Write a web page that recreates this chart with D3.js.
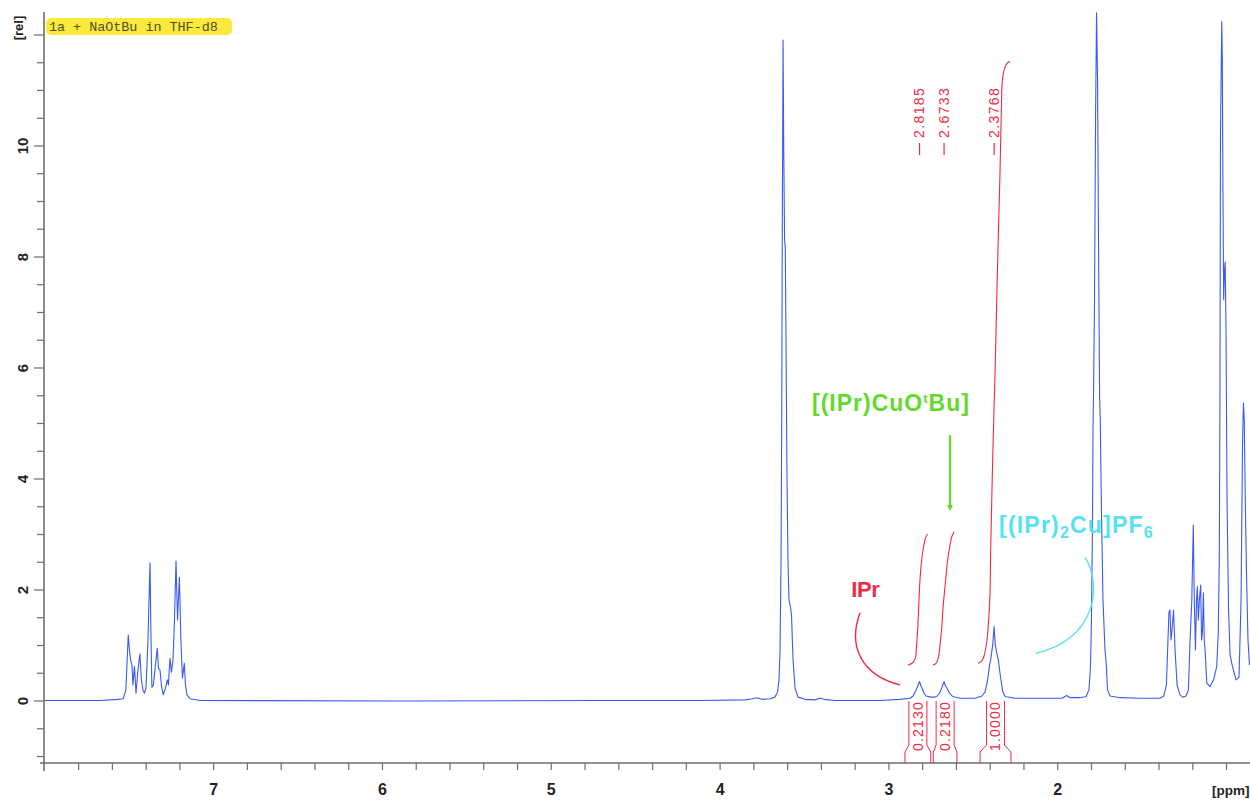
<!DOCTYPE html>
<html>
<head>
<meta charset="utf-8">
<script src="https://cdn.jsdelivr.net/npm/d3@7"></script>
<style>
  html, body { margin: 0; padding: 0; background: #fff; }
  svg { display: block; }
</style>
</head>
<body>
<svg id="chart" width="1250" height="801"></svg>
<script>
// 1H NMR spectrum, [ppm] vs [rel] intensity
const aromatic = [
  [8.005,0.01],[7.674,0.01],[7.567,0.03],[7.536,0.04],[7.520,0.20],[7.506,1.19],[7.499,0.92],
  [7.492,0.74],[7.484,0.65],[7.478,0.29],[7.469,0.62],[7.460,0.14],[7.450,0.50],[7.437,0.85],
  [7.428,0.38],[7.419,0.20],[7.410,0.14],[7.401,0.23],[7.389,1.10],[7.377,2.49],[7.371,1.10],
  [7.366,0.25],[7.357,0.29],[7.348,0.56],[7.334,0.95],[7.327,0.59],[7.318,0.56],[7.309,0.27],
  [7.299,0.11],[7.286,0.23],[7.274,0.38],[7.268,0.29],[7.259,0.77],[7.250,0.52],[7.241,0.74],
  [7.232,1.46],[7.223,2.52],[7.214,1.46],[7.209,1.82],[7.203,2.23],[7.194,1.10],[7.185,0.41],
  [7.174,0.68],[7.167,0.29],[7.158,0.11],[7.140,0.04],[7.081,0.01],[5.896,0.00],[4.711,0.01],
  [4.119,0.01]
];
const solventOCH2 = [
  [3.852,0.02],[3.811,0.04],[3.781,0.06],[3.752,0.03],[3.704,0.04],[3.675,0.07],[3.660,0.16],
  [3.651,0.38],[3.645,0.92],[3.639,2.54],[3.635,5.06],[3.632,8.13],[3.627,11.91],[3.623,9.93],
  [3.618,8.31],[3.614,8.16],[3.610,6.68],[3.604,4.16],[3.598,2.54],[3.592,1.82],[3.583,1.69],
  [3.577,1.55],[3.568,0.74],[3.556,0.23],[3.538,0.07],[3.497,0.03],[3.438,0.02],[3.408,0.05],
  [3.384,0.03],[3.319,0.01],[3.053,0.01]
];
const septets = [
  [2.934,0.03],[2.875,0.05],[2.857,0.09],[2.839,0.20],[2.829,0.27],[2.823,0.32],[2.8185,0.35],
  [2.810,0.27],[2.804,0.23],[2.792,0.14],[2.780,0.09],[2.752,0.07],[2.727,0.07],[2.713,0.09],
  [2.697,0.16],[2.683,0.27],[2.677,0.32],[2.6733,0.35],[2.665,0.27],[2.656,0.23],[2.641,0.14],
  [2.622,0.08],[2.579,0.05],[2.490,0.05],[2.449,0.09],[2.431,0.16],[2.419,0.32],[2.411,0.47],
  [2.404,0.65],[2.397,0.74],[2.391,0.88],[2.385,1.01],[2.3768,1.34],[2.370,1.01],[2.361,0.86],
  [2.352,0.74],[2.342,0.50],[2.333,0.32],[2.326,0.17],[2.312,0.08],[2.253,0.05],[2.105,0.05],
  [1.975,0.05],[1.947,0.10],[1.927,0.06],[1.868,0.06]
];
const aliphatic = [
  [1.832,0.08],[1.815,0.20],[1.807,0.56],[1.805,0.74],[1.800,1.46],[1.794,3.26],[1.791,4.88],
  [1.788,5.51],[1.782,7.23],[1.776,10.47],[1.770,12.40],[1.764,11.19],[1.758,8.13],[1.752,5.51],
  [1.748,5.06],[1.741,3.44],[1.732,1.82],[1.720,0.92],[1.712,0.65],[1.705,0.20],[1.690,0.09],
  [1.631,0.06],[1.513,0.05],[1.396,0.05],[1.372,0.09],[1.356,0.29],[1.347,1.10],[1.341,1.60],
  [1.335,1.64],[1.329,1.10],[1.323,1.28],[1.314,1.64],[1.305,0.92],[1.293,0.29],[1.276,0.11],
  [1.258,0.07],[1.240,0.09],[1.226,0.20],[1.216,1.10],[1.206,1.79],[1.201,2.54],[1.197,3.17],
  [1.191,1.82],[1.184,0.92],[1.178,1.82],[1.173,2.06],[1.167,1.46],[1.161,1.82],[1.153,2.09],
  [1.148,1.10],[1.143,1.23],[1.137,1.95],[1.132,1.10],[1.127,0.92],[1.117,0.32],[1.098,0.26],
  [1.077,0.38],[1.058,0.62],[1.049,1.23],[1.043,2.54],[1.039,5.42],[1.036,10.11],[1.031,11.55],
  [1.028,12.24],[1.025,11.55],[1.021,9.03],[1.017,7.23],[1.012,7.77],[1.008,7.91],[1.003,6.68],
  [0.997,3.62],[0.988,1.64],[0.979,0.83],[0.967,0.65],[0.944,0.38],[0.926,0.43],[0.914,1.82],
  [0.905,4.70],[0.900,5.37],[0.895,5.06],[0.889,3.62],[0.881,2.18],[0.873,1.10],[0.864,0.65]
];

// Peak picking labels
const peakPPM = [2.8185, 2.6733, 2.3768];

// Integrals: regions, values and running-integral traces
const integralFrom = [2.905, 2.737, 2.460];
const integralTo = [2.752, 2.597, 2.277];
const integralValues = ["0.2130", "0.2180", "1.0000"];
const integralTrace1 = [[2.887,0.65],[2.863,0.68],[2.845,0.76],[2.836,1.01],[2.829,1.33],[2.822,1.82],
  [2.816,2.18],[2.806,2.54],[2.795,2.77],[2.783,2.94],[2.771,3.01]];
const integralTrace2 = [[2.739,0.65],[2.721,0.68],[2.707,0.79],[2.697,1.01],[2.687,1.33],[2.678,1.73],
  [2.668,2.05],[2.652,2.54],[2.638,2.81],[2.626,2.97],[2.614,3.05]];
const integralTrace3 = [[2.472,0.68],[2.454,0.71],[2.441,0.77],[2.431,0.88],[2.421,1.05],[2.410,1.42],
  [2.401,1.95],[2.397,2.72],[2.382,4.76],[2.371,5.96],[2.357,7.77],[2.342,9.51],[2.334,10.65],
  [2.326,11.24],[2.312,11.42],[2.297,11.50],[2.283,11.52]];

// Axis ticks
const xLabelTicks = [7, 6, 5, 4, 3, 2];
const yLabelTicks = [0, 2, 4, 6, 8, 10];

// Species annotations (ppm / rel anchors)
const ipArc = [[3.171,1.59],[3.242,1.01],[3.171,0.47],[2.934,0.29]];
const cuOtBuArrow = [[2.638,4.79],[2.638,3.44]];
const cu2Arc = [[1.838,2.59],[1.733,2.09],[1.774,1.10],[2.129,0.86]];

const spectrum = aromatic.concat(solventOCH2, septets, aliphatic);

const svg = d3.select("#chart");
const L = 44, R = 1250, T = 12, B = 763;

const x = d3.scaleLinear().domain([8.005, 0.861]).range([L, R]);
const y = d3.scaleLinear().domain([-1.117, 12.414]).range([B, T]);

const FONT = "'Liberation Sans', Arial, Helvetica, sans-serif";
const RED = "#ee2b45", BLUE = "#3a5af0", GREEN = "#62da2c", CYAN = "#56e2f0";

svg.append("defs").append("clipPath").attr("id", "plotClip")
  .append("rect").attr("x", L).attr("y", T).attr("width", R - L).attr("height", B - T);

// ---- axes ----
const axisCol = "#6e6e6e";
const xMinor = d3.range(7.8, 0.99, -0.2).map(v => +v.toFixed(1));
svg.append("g").selectAll("line").data(xMinor).join("line")
  .attr("x1", d => x(d)).attr("x2", d => x(d))
  .attr("y1", B).attr("y2", B + 7)
  .attr("stroke", axisCol).attr("stroke-width", 1.2);
const yMinor = d3.range(-1, 12.01, 0.5);
svg.append("g").selectAll("line").data(yMinor).join("line")
  .attr("x1", d => (d % 2 === 0 ? L - 10 : L - 7)).attr("x2", L)
  .attr("y1", d => y(d)).attr("y2", d => y(d))
  .attr("stroke", axisCol).attr("stroke-width", 1.2);
svg.append("line").attr("x1", L - 4).attr("x2", R).attr("y1", B).attr("y2", B)
  .attr("stroke", axisCol).attr("stroke-width", 1.6);
svg.append("line").attr("x1", L).attr("x2", L).attr("y1", T).attr("y2", B + 8)
  .attr("stroke", axisCol).attr("stroke-width", 1.6);

svg.append("g").selectAll("text").data(xLabelTicks).join("text")
  .attr("x", d => x(d)).attr("y", 795)
  .attr("text-anchor", "middle")
  .attr("font-family", FONT).attr("font-weight", "bold").attr("font-size", 16)
  .attr("fill", "#222").text(d => d);
svg.append("text").attr("x", 1212).attr("y", 795)
  .attr("font-family", FONT).attr("font-weight", "bold").attr("font-size", 13.5)
  .attr("fill", "#222").text("[ppm]");

svg.append("g").selectAll("text").data(yLabelTicks).join("text")
  .attr("transform", d => `translate(23,${y(d)}) rotate(-90)`)
  .attr("text-anchor", "middle").attr("dy", "0.35em")
  .attr("font-family", FONT).attr("font-weight", "bold").attr("font-size", 15)
  .attr("fill", "#222").text(d => d);
svg.append("text").attr("transform", "translate(18,28) rotate(-90)")
  .attr("text-anchor", "middle").attr("dy", "0.35em")
  .attr("font-family", FONT).attr("font-weight", "bold").attr("font-size", 13)
  .attr("fill", "#222").text("[rel]");

// ---- title tag ----
const tag = svg.append("g");
tag.append("rect").attr("x", 46).attr("y", 18).attr("width", 186).attr("height", 17)
  .attr("rx", 5).attr("fill", "#fde93a");
tag.append("text").attr("x", 49).attr("y", 31)
  .attr("font-family", "'Liberation Mono', 'DejaVu Sans Mono', monospace")
  .attr("font-size", 13.4).attr("fill", "#4e4e30")
  .text("1a + NaOtBu in THF-d8");

const plot = svg.append("g").attr("clip-path", "url(#plotClip)");

// ---- integral traces ----
const traceLine = d3.line().x(d => x(d[0])).y(d => y(d[1])).curve(d3.curveCatmullRom);
[integralTrace1, integralTrace2, integralTrace3].forEach(tr => {
  plot.append("path").attr("d", traceLine(tr))
    .attr("fill", "none").attr("stroke", RED).attr("stroke-width", 1.1);
});

// ---- spectrum ----
plot.append("path")
  .attr("d", d3.line().x(d => x(d[0])).y(d => y(d[1]))(spectrum))
  .attr("fill", "none").attr("stroke", BLUE).attr("stroke-width", 1.1)
  .attr("stroke-linejoin", "round");

// ---- integral brackets below baseline ----
integralFrom.forEach((f, i) => {
  const xl = x(f), xr = x(integralTo[i]);
  const cx = (xl + xr) / 2, half = Math.min(9, (xr - xl) / 2);
  const y0 = y(0), yK1 = 745, yK2 = 752;
  const g = svg.append("g").attr("stroke", RED).attr("fill", "none").attr("stroke-width", 1);
  g.append("path").attr("d", `M${cx - half},${y0}V${yK1}L${xl},${yK2}V${B}`);
  g.append("path").attr("d", `M${cx + half},${y0}V${yK1}L${xr},${yK2}V${B}`);
  svg.append("text")
    .attr("transform", `translate(${cx},726) rotate(-90)`)
    .attr("text-anchor", "middle").attr("dy", "0.35em")
    .attr("font-family", FONT).attr("font-size", 14).attr("letter-spacing", 1.2)
    .attr("fill", RED).text(integralValues[i]);
});

// ---- peak labels ----
peakPPM.forEach(p => {
  const px = x(p);
  svg.append("line").attr("x1", px).attr("x2", px).attr("y1", 143).attr("y2", 155)
    .attr("stroke", RED).attr("stroke-width", 1.2);
  svg.append("text")
    .attr("transform", `translate(${px},138) rotate(-90)`)
    .attr("text-anchor", "start").attr("dy", "0.35em")
    .attr("font-family", FONT).attr("font-size", 14).attr("letter-spacing", 1.4)
    .attr("fill", RED).text(p.toFixed(4));
});

// ---- species annotations ----
const bez = pts => `M${x(pts[0][0])},${y(pts[0][1])}C${pts.slice(1).map(d => x(d[0]) + "," + y(d[1])).join(" ")}`;

svg.append("path").attr("d", bez(ipArc))
  .attr("fill", "none").attr("stroke", RED).attr("stroke-width", 1.4);
svg.append("text").attr("x", x(3.140)).attr("y", y(1.87))
  .attr("text-anchor", "middle")
  .attr("font-family", FONT).attr("font-weight", "bold").attr("font-size", 22)
  .attr("letter-spacing", -0.5).attr("fill", RED).text("IPr");

svg.append("line")
  .attr("x1", x(cuOtBuArrow[0][0])).attr("y1", y(cuOtBuArrow[0][1]))
  .attr("x2", x(cuOtBuArrow[1][0])).attr("y2", y(cuOtBuArrow[1][1]) - 3)
  .attr("stroke", GREEN).attr("stroke-width", 2.2);
svg.append("path")
  .attr("d", `M${x(cuOtBuArrow[1][0]) - 3},${y(cuOtBuArrow[1][1]) - 5}L${x(cuOtBuArrow[1][0]) + 3},${y(cuOtBuArrow[1][1]) - 5}L${x(cuOtBuArrow[1][0])},${y(cuOtBuArrow[1][1]) + 1}Z`)
  .attr("fill", GREEN);

const green = svg.append("text").attr("x", x(2.988)).attr("y", y(5.23))
  .attr("text-anchor", "middle")
  .attr("font-family", FONT).attr("font-weight", "bold").attr("font-size", 23)
  .attr("letter-spacing", 1).attr("fill", GREEN);
green.append("tspan").text("[(IPr)CuO");
green.append("tspan").attr("dy", -8).attr("font-size", 13).text("t");
green.append("tspan").attr("dy", 8).text("Bu]");

svg.append("path").attr("d", bez(cu2Arc))
  .attr("fill", "none").attr("stroke", CYAN).attr("stroke-width", 1.4);
const cyan = svg.append("text").attr("x", x(1.889)).attr("y", y(3.03))
  .attr("text-anchor", "middle")
  .attr("font-family", FONT).attr("font-weight", "bold").attr("font-size", 23)
  .attr("letter-spacing", 1.2).attr("fill", CYAN);
cyan.append("tspan").text("[(IPr)");
cyan.append("tspan").attr("dy", 5).attr("font-size", 16).text("2");
cyan.append("tspan").attr("dy", -5).text("Cu]PF");
cyan.append("tspan").attr("dy", 5).attr("font-size", 16).text("6");
</script>
</body>
</html>
